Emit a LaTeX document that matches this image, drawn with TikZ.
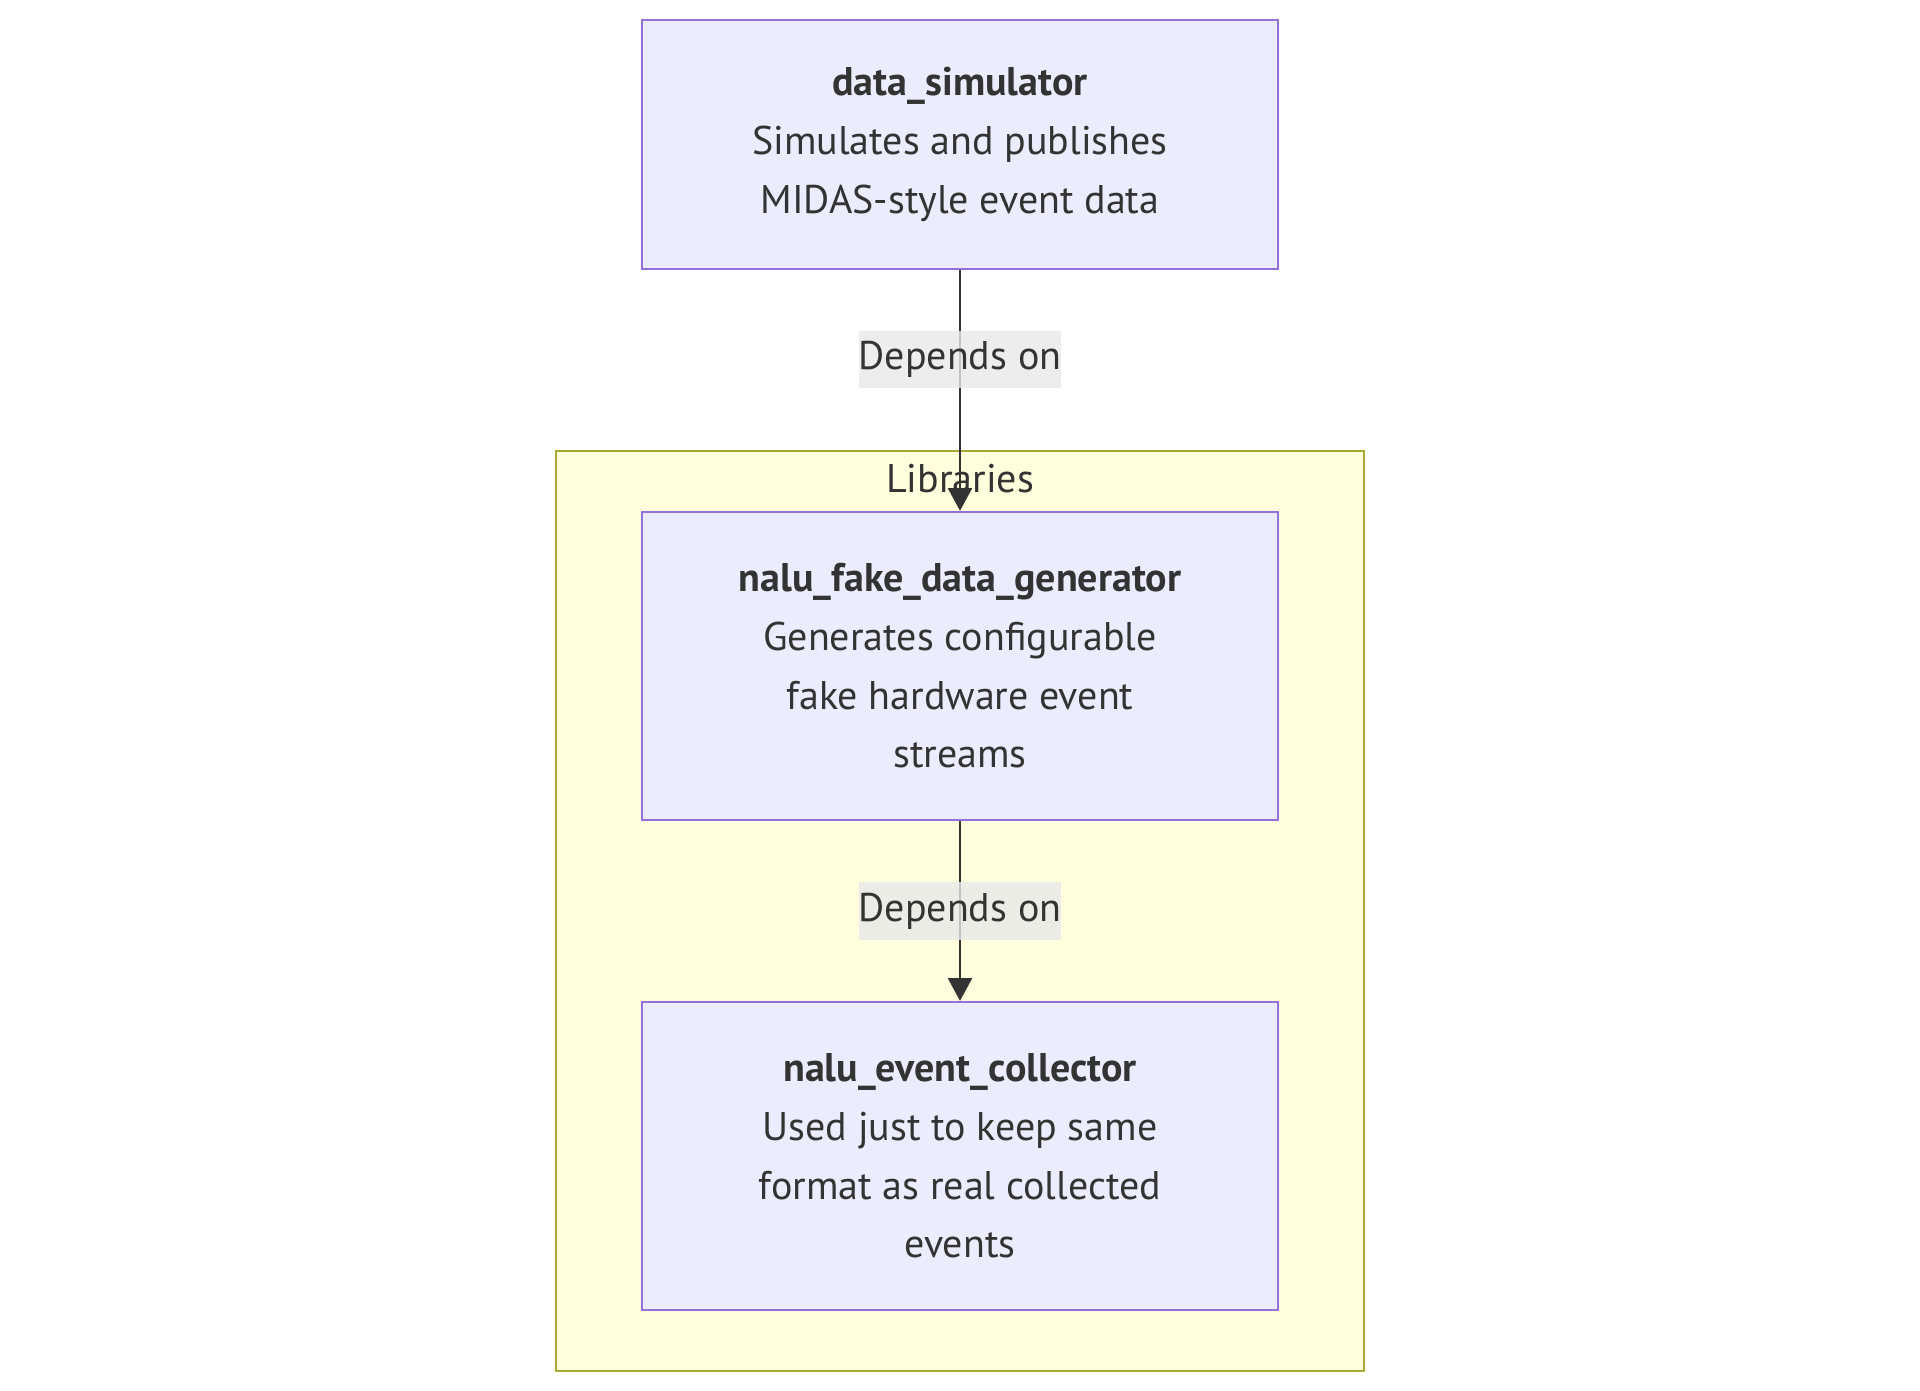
\documentclass[tikz,border=0pt]{standalone}
\usepackage{fontspec}
\setmainfont{PT Sans}
\usetikzlibrary{arrows.meta}
\definecolor{boxfill}{HTML}{ECECFF}
\definecolor{boxline}{HTML}{9370DB}
\definecolor{clusterfill}{HTML}{FFFFDE}
\definecolor{clusterline}{HTML}{AAAA33}
\definecolor{labelfill}{HTML}{E8E8E8}
\definecolor{ink}{HTML}{333333}
\tikzset{
  pkg/.style={draw=boxline, fill=boxfill, line width=1.8pt, minimum width=477pt,
    align=center, text=ink, font=\fontsize{30}{44}\selectfont},
  dep/.style={fill=labelfill, fill opacity=0.8, text opacity=1, text=ink, inner sep=0pt,
    minimum width=149pt, minimum height=43pt, font=\fontsize{30}{44}\selectfont},
}
\begin{document}
\begin{tikzpicture}[>={Triangle[length=17pt,width=18pt]}, x=0.75pt, y=-0.75pt]
\useasboundingbox (0,0) rectangle (1920,1391);
\draw[draw=clusterline, fill=clusterfill, line width=1.8pt](556,451) rectangle (1364,1371);
\node[text=ink, font=\fontsize{30}{44}\selectfont] (libtitle) at (960,479) {Libraries};

\node[pkg, minimum height=186.75pt] (sim) at (960,144.5)
  {\textbf{data\_simulator}\\Simulates and publishes\\MIDAS-style event data};
\node[pkg, minimum height=231pt] (gen) at (960,666)
  {\textbf{nalu\_fake\_data\_generator}\\Generates configurable\\fake hardware event\\streams};
\node[pkg, minimum height=231pt] (col) at (960,1156)
  {\textbf{nalu\_event\_collector}\\Used just to keep same\\format as real collected\\events};

\draw[->, ink, line width=1.6pt](sim) -- (gen)node[dep, pos=0.37](dep1){Depends on};
\draw[->, ink, line width=1.6pt](gen) -- (col)node[dep, midway](dep2){Depends on};

\end{tikzpicture}
\end{document}
